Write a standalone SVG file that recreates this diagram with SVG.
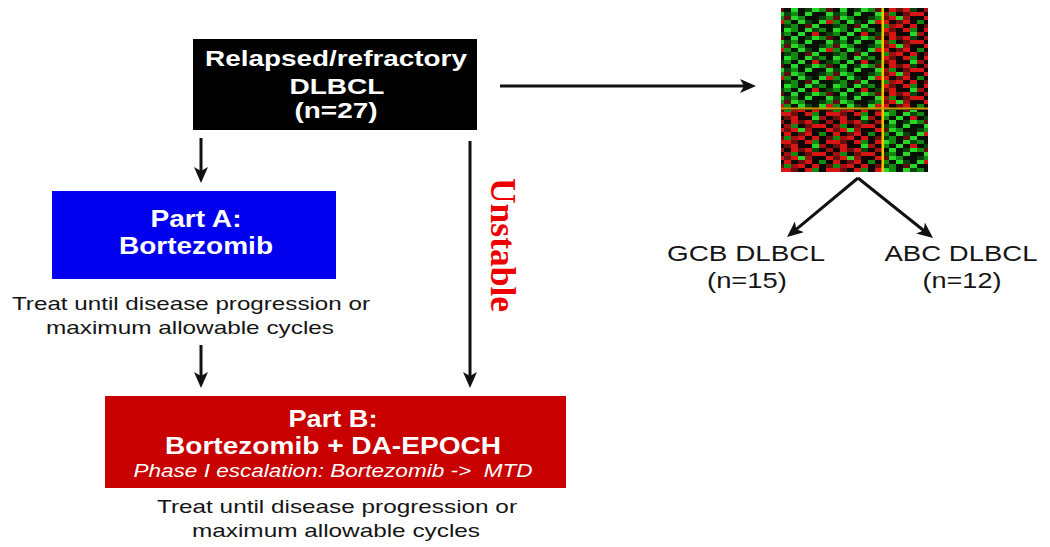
<svg xmlns="http://www.w3.org/2000/svg" width="1050" height="547" viewBox="0 0 1050 547">
<style>
.hb{font-family:"Liberation Sans",Arial,sans-serif;font-weight:bold;fill:#ffffff;text-anchor:middle}
.cap{font-family:"Liberation Sans",Arial,sans-serif;font-size:19px;fill:#151515;text-anchor:middle}
.lbl{font-family:"Liberation Sans",Arial,sans-serif;font-size:22px;fill:#151515;text-anchor:middle}
.conn{stroke:#111;stroke-width:3;fill:none;marker-end:url(#ah)}
</style>
<defs>
<marker id="ah" markerUnits="userSpaceOnUse" markerWidth="16" markerHeight="14" refX="8" refY="7" orient="auto">
<path d="M0,0 L16,7 L0,14 L4,7 z" fill="#111"/>
</marker>
<pattern id="hmG" width="49" height="28" patternUnits="userSpaceOnUse">
<rect width="49" height="28" fill="#0a0f06"/>
<rect x="0" y="0" width="7" height="4" fill="#28d828"/><rect x="7" y="0" width="7" height="4" fill="#128a12"/><rect x="21" y="0" width="7" height="4" fill="#28d828"/><rect x="28" y="0" width="7" height="4" fill="#0a440a"/><rect x="35" y="0" width="7" height="4" fill="#128a12"/>
<rect x="0" y="4" width="7" height="4" fill="#128a12"/><rect x="14" y="4" width="7" height="4" fill="#28d828"/><rect x="28" y="4" width="7" height="4" fill="#d01515"/><rect x="42" y="4" width="7" height="4" fill="#0a440a"/>
<rect x="7" y="8" width="7" height="4" fill="#28d828"/><rect x="21" y="8" width="7" height="4" fill="#0a440a"/><rect x="28" y="8" width="7" height="4" fill="#28d828"/><rect x="35" y="8" width="7" height="4" fill="#128a12"/><rect x="42" y="8" width="7" height="4" fill="#5e0e0e"/>
<rect x="0" y="12" width="7" height="4" fill="#0a440a"/><rect x="7" y="12" width="7" height="4" fill="#128a12"/><rect x="21" y="12" width="7" height="4" fill="#28d828"/><rect x="42" y="12" width="7" height="4" fill="#28d828"/>
<rect x="0" y="16" width="7" height="4" fill="#5e0e0e"/><rect x="7" y="16" width="7" height="4" fill="#28d828"/><rect x="14" y="16" width="7" height="4" fill="#128a12"/><rect x="35" y="16" width="7" height="4" fill="#0a440a"/><rect x="42" y="16" width="7" height="4" fill="#128a12"/>
<rect x="0" y="20" width="7" height="4" fill="#128a12"/><rect x="14" y="20" width="7" height="4" fill="#28d828"/><rect x="21" y="20" width="7" height="4" fill="#0a440a"/><rect x="35" y="20" width="7" height="4" fill="#28d828"/><rect x="42" y="20" width="7" height="4" fill="#d01515"/>
<rect x="0" y="24" width="7" height="4" fill="#0a440a"/><rect x="7" y="24" width="7" height="4" fill="#128a12"/><rect x="21" y="24" width="7" height="4" fill="#5e0e0e"/><rect x="28" y="24" width="7" height="4" fill="#28d828"/>
</pattern>
<pattern id="hmR" width="49" height="28" patternUnits="userSpaceOnUse">
<rect width="49" height="28" fill="#0f0606"/>
<rect x="0" y="0" width="7" height="4" fill="#d81515"/><rect x="7" y="0" width="7" height="4" fill="#6a0e0e"/><rect x="21" y="0" width="7" height="4" fill="#d81515"/><rect x="28" y="0" width="7" height="4" fill="#128a12"/><rect x="42" y="0" width="7" height="4" fill="#d81515"/>
<rect x="0" y="4" width="7" height="4" fill="#6a0e0e"/><rect x="7" y="4" width="7" height="4" fill="#d81515"/><rect x="28" y="4" width="7" height="4" fill="#28d828"/><rect x="35" y="4" width="7" height="4" fill="#a01010"/>
<rect x="7" y="8" width="7" height="4" fill="#d81515"/><rect x="14" y="8" width="7" height="4" fill="#6a0e0e"/><rect x="21" y="8" width="7" height="4" fill="#d81515"/><rect x="28" y="8" width="7" height="4" fill="#0a440a"/><rect x="42" y="8" width="7" height="4" fill="#a01010"/>
<rect x="0" y="12" width="7" height="4" fill="#a01010"/><rect x="7" y="12" width="7" height="4" fill="#128a12"/><rect x="21" y="12" width="7" height="4" fill="#6a0e0e"/><rect x="28" y="12" width="7" height="4" fill="#d81515"/><rect x="35" y="12" width="7" height="4" fill="#d81515"/>
<rect x="0" y="16" width="7" height="4" fill="#6a0e0e"/><rect x="7" y="16" width="7" height="4" fill="#d81515"/><rect x="14" y="16" width="7" height="4" fill="#28d828"/><rect x="21" y="16" width="7" height="4" fill="#a01010"/><rect x="42" y="16" width="7" height="4" fill="#d81515"/>
<rect x="0" y="20" width="7" height="4" fill="#d81515"/><rect x="14" y="20" width="7" height="4" fill="#6a0e0e"/><rect x="21" y="20" width="7" height="4" fill="#d81515"/><rect x="35" y="20" width="7" height="4" fill="#128a12"/>
<rect x="0" y="24" width="7" height="4" fill="#128a12"/><rect x="7" y="24" width="7" height="4" fill="#a01010"/><rect x="14" y="24" width="7" height="4" fill="#d81515"/><rect x="28" y="24" width="7" height="4" fill="#d81515"/><rect x="42" y="24" width="7" height="4" fill="#6a0e0e"/>
</pattern>
</defs>
<rect width="1050" height="547" fill="#ffffff"/>

<g id="connectors">
<line class="conn" x1="201" y1="138" x2="201" y2="175"/>
<line class="conn" x1="201" y1="345" x2="201" y2="380"/>
<line class="conn" x1="470" y1="141" x2="470" y2="380"/>
<line class="conn" x1="500" y1="86" x2="748" y2="86"/>
<line class="conn" x1="858" y1="178" x2="793.2" y2="231.9"/>
<line class="conn" x1="858" y1="178" x2="926.8" y2="233"/>
</g>

<g id="node-relapsed">
<rect x="193" y="39" width="284" height="91" fill="#000000"/>
<text class="hb" x="336" y="66" font-size="22" textLength="262" lengthAdjust="spacingAndGlyphs">Relapsed/refractory</text>
<text class="hb" x="337" y="94" font-size="22" textLength="95" lengthAdjust="spacingAndGlyphs">DLBCL</text>
<text class="hb" x="336" y="118" font-size="22" textLength="83" lengthAdjust="spacingAndGlyphs">(n=27)</text>
</g>

<g id="node-partA">
<rect x="52" y="191" width="284" height="88" fill="#0000ee"/>
<text class="hb" x="196" y="227" font-size="23" textLength="91" lengthAdjust="spacingAndGlyphs">Part A:</text>
<text class="hb" x="196" y="254" font-size="23" textLength="154" lengthAdjust="spacingAndGlyphs">Bortezomib</text>
</g>

<g id="caption-A">
<text class="cap" x="191" y="310" textLength="358" lengthAdjust="spacingAndGlyphs">Treat until disease progression or</text>
<text class="cap" x="190" y="334" textLength="288" lengthAdjust="spacingAndGlyphs">maximum allowable cycles</text>
</g>

<g id="node-partB">
<rect x="105" y="396" width="461" height="92" fill="#c80000"/>
<text class="hb" x="333" y="427" font-size="23" textLength="89" lengthAdjust="spacingAndGlyphs">Part B:</text>
<text class="hb" x="333" y="454" font-size="23" textLength="336" lengthAdjust="spacingAndGlyphs">Bortezomib + DA-EPOCH</text>
<text x="333" y="477" font-family="Liberation Sans, Arial, sans-serif" font-size="18" font-style="italic" fill="#ffffff" text-anchor="middle" textLength="399" lengthAdjust="spacingAndGlyphs" xml:space="preserve">Phase I escalation: Bortezomib -&gt;  MTD</text>
</g>

<g id="caption-B">
<text class="cap" x="337" y="513" textLength="360" lengthAdjust="spacingAndGlyphs">Treat until disease progression or</text>
<text class="cap" x="336" y="537" textLength="288" lengthAdjust="spacingAndGlyphs">maximum allowable cycles</text>
</g>

<g id="label-unstable">
<text transform="translate(491,245) rotate(90)" font-family="Liberation Serif, Times New Roman, serif" font-weight="bold" font-size="35" fill="#ee0000" text-anchor="middle" textLength="134" lengthAdjust="spacingAndGlyphs">Unstable</text>
</g>

<g id="node-heatmap">
<rect x="781" y="8" width="147" height="164" fill="#0c0c06"/>
<rect x="781" y="8" width="101" height="100" fill="url(#hmG)"/>
<rect x="884" y="8" width="44" height="100" fill="url(#hmR)"/>
<rect x="781" y="110" width="101" height="62" fill="url(#hmR)"/>
<rect x="884" y="110" width="44" height="62" fill="url(#hmG)"/>
<rect x="881.5" y="8" width="2.5" height="164" fill="#f0c800"/>
<rect x="781" y="107.5" width="147" height="2" fill="#c89a00"/>
</g>

<g id="node-gcb">
<text class="lbl" x="746" y="261" textLength="158" lengthAdjust="spacingAndGlyphs">GCB DLBCL</text>
<text class="lbl" x="747" y="288" textLength="80" lengthAdjust="spacingAndGlyphs">(n=15)</text>
</g>

<g id="node-abc">
<text class="lbl" x="961" y="261" textLength="153" lengthAdjust="spacingAndGlyphs">ABC DLBCL</text>
<text class="lbl" x="962" y="288" textLength="79" lengthAdjust="spacingAndGlyphs">(n=12)</text>
</g>
</svg>
